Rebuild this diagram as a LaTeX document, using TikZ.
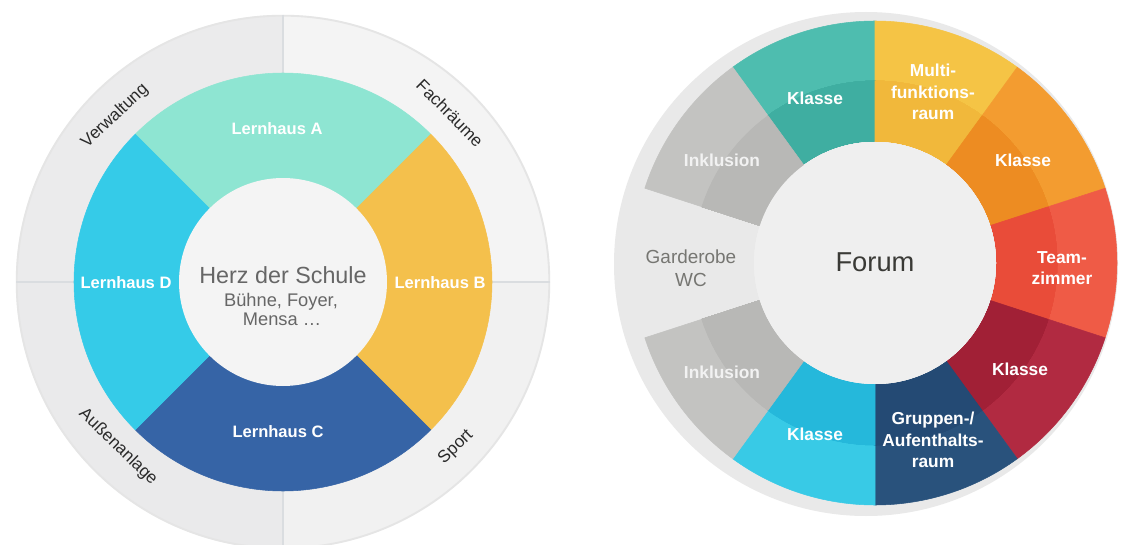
\documentclass[tikz,border=0pt]{standalone}
\usepackage{fontspec}
\setmainfont{Liberation Sans}
\usetikzlibrary{calc}

% left wheel
\definecolor{bandTL}{HTML}{EBEBEC}
\definecolor{bandTR}{HTML}{F4F4F4}
\definecolor{bandBL}{HTML}{EAEAEB}
\definecolor{bandBR}{HTML}{F1F1F1}
\definecolor{foldline}{HTML}{DADDE0}
\definecolor{lhA}{HTML}{8EE5D2}
\definecolor{lhB}{HTML}{F4C04C}
\definecolor{lhC}{HTML}{3664A6}
\definecolor{lhD}{HTML}{35CBE8}
\definecolor{heartFill}{HTML}{F4F4F4}
\definecolor{heartText}{HTML}{666666}
\definecolor{areaText}{HTML}{2A2A2A}
% right wheel
\definecolor{bandR}{HTML}{E9E9E9}
\definecolor{forumFill}{HTML}{EFEFEF}
\definecolor{forumText}{HTML}{3A3A36}
\definecolor{tealO}{HTML}{4EBDAF}
\definecolor{tealI}{HTML}{3FAEA1}
\definecolor{multiO}{HTML}{F5C445}
\definecolor{multiI}{HTML}{F1B83B}
\definecolor{orO}{HTML}{F39C30}
\definecolor{orI}{HTML}{ED8C22}
\definecolor{teamO}{HTML}{EF5B46}
\definecolor{teamI}{HTML}{E94C39}
\definecolor{redO}{HTML}{B12A41}
\definecolor{redI}{HTML}{A12036}
\definecolor{navyO}{HTML}{29527C}
\definecolor{navyI}{HTML}{244A74}
\definecolor{cyanO}{HTML}{38CAE6}
\definecolor{cyanI}{HTML}{25B8DB}
\definecolor{grayO}{HTML}{C3C3C1}
\definecolor{grayI}{HTML}{B8B8B6}
\definecolor{incText}{HTML}{F2F2F2}
\definecolor{wcText}{HTML}{767672}

\tikzset{
  lhlabel/.style={text=white,font=\fontsize{12.4}{15}\selectfont\bfseries},
  seclabel/.style={text=white,align=center,font=\fontsize{13}{16}\selectfont\bfseries},
  inclabel/.style={seclabel,text=incText},
  wclabel/.style={text=wcText,align=center,font=\fontsize{14.2}{17}\selectfont},
  heartbig/.style={text=heartText,anchor=base,font=\fontsize{17.5}{20}\selectfont},
  heartsmall/.style={text=heartText,anchor=base,font=\fontsize{13.7}{16}\selectfont},
  arealabel/.style={text=areaText,inner sep=0pt,font=\fontsize{12.8}{14}\selectfont},
}

% ring sector: centre, start angle, delta, radius, colour
\newcommand\ringsector[5]{%
  \filldraw[fill=#5,draw=#5,line width=0.4] (#1) -- ++(#2:#4)
    arc[start angle=#2,delta angle=#3,radius=#4] -- cycle;}

\begin{document}
\begin{tikzpicture}[x=0.75pt,y=0.75pt]
\useasboundingbox (0,0) rectangle (1122,544);
\fill[white] (0,0) rectangle (1122,544);

%% ---------------- left wheel ----------------
\coordinate (L) at (283,262);
\fill[bandTR] (L) -- ++(0:267)   arc[start angle=0,  delta angle=90,radius=267] -- cycle;
\fill[bandTL] (L) -- ++(90:267)  arc[start angle=90, delta angle=90,radius=267] -- cycle;
\fill[bandBL] (L) -- ++(180:267) arc[start angle=180,delta angle=90,radius=267] -- cycle;
\fill[bandBR] (L) -- ++(270:267) arc[start angle=270,delta angle=90,radius=267] -- cycle;
\draw[black!10,line width=1.4] (L) circle[radius=266.3];
\foreach \t in {0,90,180,270}
  \draw[foldline,line width=0.8] ($(L)+(\t:209)$) -- ($(L)+(\t:267)$);

\ringsector{L}{45}{90}{209}{lhA}
\ringsector{L}{-45}{90}{209}{lhB}
\ringsector{L}{225}{90}{209}{lhC}
\ringsector{L}{135}{90}{209}{lhD}
\fill[heartFill] (L) circle[radius=104];

\node[lhlabel] (lhausA) at (277,415) {Lernhaus A};
\node[lhlabel] (lhausB) at (440,261) {Lernhaus B};
\node[lhlabel] (lhausC) at (278,112) {Lernhaus C};
\node[lhlabel] (lhausD) at (126,261) {Lernhaus D};

\node[heartbig]   (heart)  at (283,261) {Herz der Schule};
\node[heartsmall] (heart2) at (281,238) {Bühne, Foyer,};
\node[heartsmall] (heart3) at (282,219) {Mensa …};

% outer areas along the rim
\node[arealabel,rotate=43]  (verw)  at (115,428) {Verwaltung};
\node[arealabel,rotate=-45] (fach)  at (450,431) {Fachräume};
\node[arealabel,rotate=-44] (aussen) at (118,97) {Außenanlage};
\node[arealabel,rotate=44]  (sport) at (456,97) {Sport};

%% ---------------- right wheel ----------------
\coordinate (R) at (875,281);
\fill[bandR] (866,280) circle[radius=252];

% outer (lighter) part of each room
\foreach \a/\c in {90/tealO,54/multiO,18/orO,-18/teamO,-54/redO,
                   -90/navyO,-126/cyanO,-162/grayO,126/grayO}
  \ringsector{R}{\a}{36}{242}{\c}
% inner (darker) part of each room
\foreach \a/\c in {90/tealI,54/multiI,18/orI,-18/teamI,-54/redI,
                   -90/navyI,-126/cyanI,-162/grayI,126/grayI}
  \ringsector{R}{\a}{36}{182}{\c}
\fill[forumFill] (R) circle[radius=121];

\node[text=forumText,anchor=base,font=\fontsize{20.5}{24}\selectfont] (forum) at (875,273) {Forum};

\node[seclabel] (klasse1) at (815,446) {Klasse};
\node[seclabel] (multi)   at (933,452) {Multi-\\funktions-\\raum};
\node[seclabel] (klasse2) at (1023,384) {Klasse};
\node[seclabel] (team)    at (1062,276) {Team-\\zimmer};
\node[seclabel] (klasse3) at (1020,175) {Klasse};
\node[seclabel] (gruppen) at (933,104) {Gruppen-/\\Aufenthalts-\\raum};
\node[seclabel] (klasse4) at (815,110) {Klasse};
\node[inclabel] (inkl2)   at (722,172) {Inklusion};
\node[wclabel]  (garde)   at (691,276) {Garderobe\\WC};
\node[inclabel] (inkl1)   at (722,384) {Inklusion};
\end{tikzpicture}
\end{document}
